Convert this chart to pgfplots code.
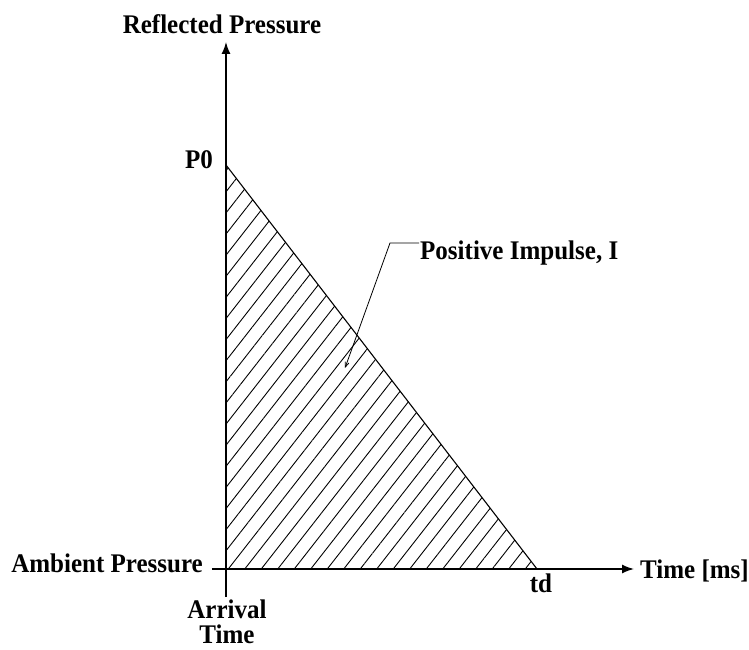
\documentclass[border=0pt]{standalone}
\usepackage{fontspec}
\setmainfont{Liberation Serif}[FakeStretch=0.93]
\usepackage{pgfplots}
\pgfplotsset{compat=1.18}
\usetikzlibrary{arrows.meta,patterns.meta}
\tikzset{lab/.style={font=\fontsize{27}{25}\selectfont\bfseries, inner sep=0pt}}
\begin{document}
\begin{tikzpicture}
\begin{axis}[
  at={(0,0)}, anchor=south west,
  scale only axis, width=422bp, height=555bp,
  xmin=-14, xmax=408, ymin=-28, ymax=527,
  axis lines=middle,
  axis line style={line width=1.4pt, -{Latex[length=12pt,width=9pt]}},
  xtick=\empty, ytick=\empty,
  clip=false,
]
\addplot[draw=black, line width=1.1pt, pattern={Lines[angle=52,distance=13bp,line width=0.9pt]}]
  coordinates {(0,0) (0,404) (311,0) (0,0)};
\node[lab, anchor=base] at (axis cs:-4,535) {Reflected Pressure};
\node[lab, anchor=east] at (axis cs:-13,409) {P0};
\node[lab, anchor=east] at (axis cs:-23,6) {Ambient Pressure};
\node[lab, align=center, anchor=north] at (axis cs:1,-31) {Arrival\\Time};
\node[lab] at (axis cs:315,-14) {td};
\node[lab, anchor=west] at (axis cs:414,-2) {Time [ms]};
\node[lab, anchor=west] at (axis cs:194,316) {Positive Impulse, I};
\draw[line width=0.8pt, -{Straight Barb[length=5pt,width=4pt]}] (axis cs:193,326) -- (axis cs:164,326) -- (axis cs:119,201);
\end{axis}
\pgfresetboundingbox
\path[use as bounding box] (-212bp,-53bp) rectangle (537bp,597bp);
\end{tikzpicture}
\end{document}
